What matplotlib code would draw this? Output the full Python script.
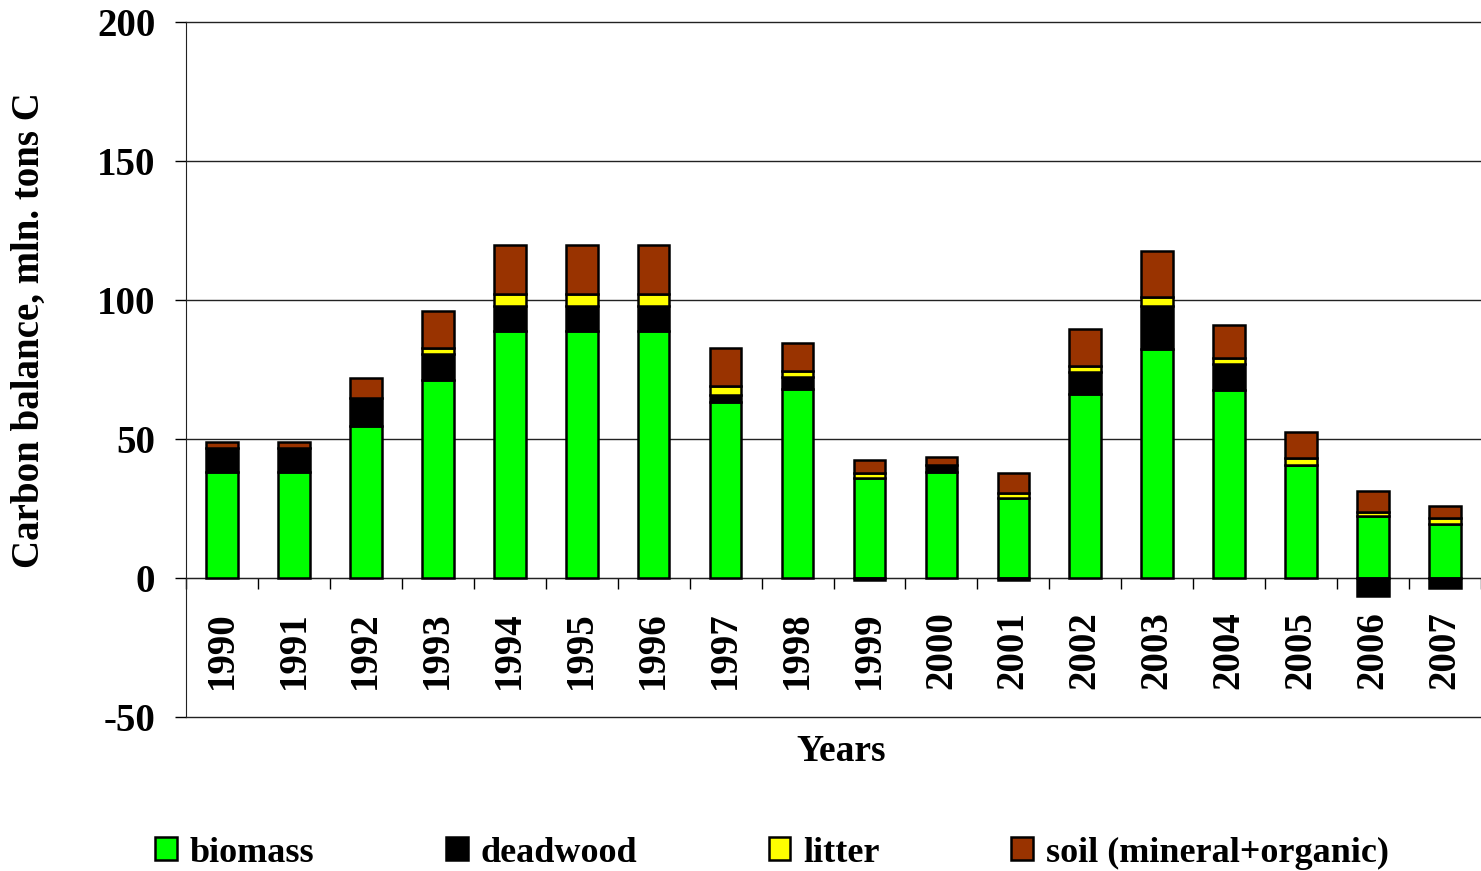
import matplotlib
matplotlib.use("Agg")
import matplotlib.pyplot as plt
import numpy as np

years = ["1990", "1991", "1992", "1993", "1994", "1995", "1996", "1997", "1998",
         "1999", "2000", "2001", "2002", "2003", "2004", "2005", "2006", "2007"]
biomass = [38.3, 38.3, 54.7, 71.3, 88.9, 88.9, 88.9, 63.2, 67.9,
           35.9, 38.3, 28.8, 66.1, 82.5, 67.6, 40.6, 22.2, 19.6]
deadwood = [8.3, 8.3, 10.0, 9.2, 9.0, 9.0, 9.0, 2.5, 4.3,
            -0.8, 2.5, -0.8, 8.0, 15.5, 9.2, 0.0, -6.4, -3.6]
litter = [0.0, 0.0, 0.0, 2.3, 4.3, 4.3, 4.3, 3.4, 2.2,
          1.9, 0.0, 1.6, 2.1, 3.0, 2.4, 2.7, 1.7, 1.9]
soil = [2.3, 2.3, 7.2, 13.1, 17.5, 17.5, 17.5, 13.7, 10.2,
        4.7, 2.6, 7.5, 13.2, 16.8, 11.8, 9.2, 7.5, 4.5]
series_names = ["biomass", "deadwood", "litter", "soil (mineral+organic)"]
series_colors = ["#00FF00", "#000000", "#FFFF00", "#993300"]

FONT = "Liberation Serif"
plt.rcParams["font.family"] = [FONT, "DejaVu Serif"]
plt.rcParams["font.weight"] = "bold"

fig = plt.figure(figsize=(14.81, 8.71), dpi=100)
ax = fig.add_axes([186 / 1481, 1 - 717 / 871, 1 - 186 / 1481, (717 - 22) / 871])

x = np.arange(len(years))
pos_bottom = np.zeros(len(years))
neg_bottom = np.zeros(len(years))
handles = []
for vals, name, col in zip([biomass, deadwood, litter, soil], series_names, series_colors):
    v = np.array(vals, dtype=float)
    bottoms = np.where(v >= 0, pos_bottom, neg_bottom)
    b = ax.bar(x, v, width=0.44, bottom=bottoms, color=col, edgecolor="black",
               linewidth=1.8, label=name, zorder=3)
    handles.append(b)
    pos_bottom = pos_bottom + np.where(v > 0, v, 0)
    neg_bottom = neg_bottom + np.where(v < 0, v, 0)

ax.set_xlim(-0.5, len(years) - 0.5)
ax.set_ylim(-50, 200)
ax.set_yticks([-50, 0, 50, 100, 150, 200])
ax.set_yticklabels(["-50", "0", "50", "100", "150", "200"])
ax.tick_params(axis="y", length=8, width=1, pad=14, labelsize=28, direction="out")
for lab in ax.get_yticklabels():
    lab.set_fontweight("bold")

ax.yaxis.grid(True, color="#222222", linewidth=1.0, zorder=0)
ax.set_axisbelow(True)
for gl in ax.get_ygridlines():
    gl.set_clip_on(False)

# x axis at zero
ax.spines["bottom"].set_position(("data", 0))
ax.spines["top"].set_visible(False)
ax.spines["right"].set_visible(False)
ax.spines["left"].set_color("#222222")
ax.spines["bottom"].set_color("#222222")

ax.set_xticks(np.arange(-0.5, len(years), 1.0))
ax.set_xticklabels([])
ax.tick_params(axis="x", which="major", length=8, width=1, direction="out")
ax.set_xticks(x, minor=True)
ax.set_xticklabels(years, minor=True, rotation=90, fontsize=28, fontweight="bold")
ax.tick_params(axis="x", which="minor", length=0, pad=24)

ax.set_ylabel("Carbon balance, mln. tons C", fontsize=28, fontweight="bold")
ax.yaxis.set_label_coords(-0.107, 0.557)

fig.text(841 / 1481, 1 - 751 / 871, "Years", fontsize=27, fontweight="bold",
         ha="center", va="center")

leg = fig.legend(handles=handles, labels=series_names, loc="center",
                 bbox_to_anchor=(772 / 1481, 1 - 853 / 871), ncol=4, frameon=False,
                 prop={"family": FONT, "weight": "bold", "size": 26},
                 handlelength=0.6, handleheight=0.6, handletextpad=0.35,
                 columnspacing=3.65, borderaxespad=0)

fig.savefig("out.png", dpi=100)
